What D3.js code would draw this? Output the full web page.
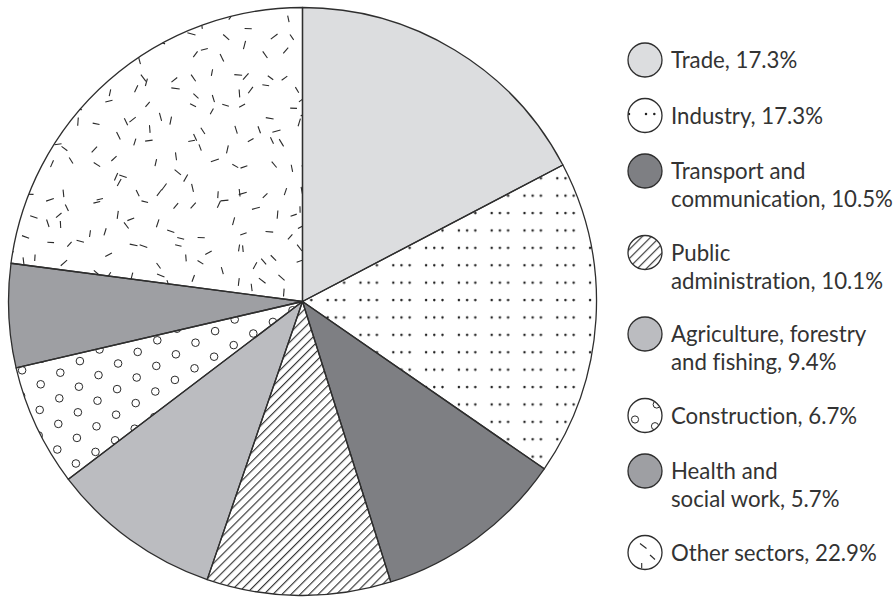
<!DOCTYPE html>
<html><head><meta charset="utf-8">
<script src="https://cdn.jsdelivr.net/npm/d3@7"></script>
<style>body{margin:0;background:#fff} text{font-variant-ligatures:none;font-feature-settings:"liga" 0,"clig" 0;}</style>
</head><body><svg id="c" width="895" height="598"></svg>
<script>
// ---- data ----
const categories = ["Trade","Industry","Transport and communication","Public administration","Agriculture, forestry and fishing","Construction","Health and social work","Other sectors"];
const values = [17.3,17.3,10.5,10.1,9.4,6.7,5.7,22.9];
const legendLabels = [["Trade, 17.3%"],["Industry, 17.3%"],["Transport and","communication, 10.5%"],["Public","administration, 10.1%"],["Agriculture, forestry","and fishing, 9.4%"],["Construction, 6.7%"],["Health and","social work, 5.7%"],["Other sectors, 22.9%"]];
const fillKinds = ["solid","dots","solid","hatch","solid","circles","solid","dashes"];
const solidColors = ["#dcdddf","#ffffff","#7e7f83","#ffffff","#bbbcc0","#ffffff","#9e9fa3","#ffffff"];

// ---- layout ----
const W = 895, H = 598;
const cx = 302.5, cy = 301.5, R = 294;
const stroke = "#2e2e2e", ink = "#333";
const font = "Lato";
const svg = d3.select("#c");
const defs = svg.append("defs");

// dotted pattern (groups of three)
const pd = defs.append("pattern").attr("id","dots").attr("patternUnits","userSpaceOnUse")
  .attr("x",384).attr("y",259.5).attr("width",32.8).attr("height",17.4);
[2,10.2,18.4].forEach(x=>pd.append("circle").attr("cx",x).attr("cy",0.1).attr("r",1.25).attr("fill","#222"));
[2,10.2,18.4].forEach(x=>pd.append("circle").attr("cx",x).attr("cy",17.5).attr("r",1.25).attr("fill","#222"));
// hatch pattern
const ph = defs.append("pattern").attr("id","hatch").attr("patternUnits","userSpaceOnUse")
  .attr("width",6.4).attr("height",10).attr("patternTransform","rotate(45)");
ph.append("rect").attr("width",6.4).attr("height",10).attr("fill","#fff");
ph.append("line").attr("x1",0.6).attr("x2",0.6).attr("y1",0).attr("y2",10).attr("stroke","#2a2a2a").attr("stroke-width",1.1);

const pie = d3.pie().sort(null).value(d=>d)(values);
const arc = d3.arc().innerRadius(0).outerRadius(R);
const g = svg.append("g").attr("transform",`translate(${cx},${cy})`);

// seeded generator for texture
let seed = 12345;
function rnd(){ seed = (seed*1103515245 + 12345) % 2147483648; return seed/2147483648; }

pie.forEach((p,i)=>{
  const kind = fillKinds[i];
  const fill = kind==="dots" ? "url(#dots)" : kind==="hatch" ? "url(#hatch)" : solidColors[i];
  defs.append("clipPath").attr("id","clip"+i).append("path").attr("d",arc(p))
    .attr("transform",`translate(${cx},${cy})`);
  svg.insert("path","g").attr("d",arc(p)).attr("transform",`translate(${cx},${cy})`).attr("fill",fill);
  if(kind==="circles"){
    const cg = svg.insert("g","g:last-of-type").attr("clip-path",`url(#clip${i})`);
    const ox=40.7, oy=384.3, a=[19.6,-11.6], b=[18.6,14];
    for(let m=-30;m<30;m++) for(let n=-30;n<30;n++){
      const x = ox + m*a[0] + n*b[0], y = oy + m*a[1] + n*b[1];
      if(x<0||x>320||y<250||y>520) continue;
      cg.append("circle").attr("cx",x).attr("cy",y).attr("r",3.8).attr("fill","none").attr("stroke","#2a2a2a").attr("stroke-width",1);
    }
  }
  if(kind==="dashes"){
    const dg = svg.insert("g","g:last-of-type").attr("clip-path",`url(#clip${i})`);
    const step = 20;
    for(let y=0;y<320;y+=step) for(let x=0;x<320;x+=step){
      const px = x + rnd()*step, py = y + rnd()*step;
      const ang = rnd()*Math.PI, L = 6.5 + rnd()*2;
      dg.append("line").attr("x1",px-Math.cos(ang)*L/2).attr("y1",py-Math.sin(ang)*L/2)
        .attr("x2",px+Math.cos(ang)*L/2).attr("y2",py+Math.sin(ang)*L/2)
        .attr("stroke","#2a2a2a").attr("stroke-width",1.1);
    }
  }
});
// outlines on top
g.selectAll("path.o").data(pie).join("path").attr("class","o").attr("d",arc)
  .attr("fill","none").attr("stroke",stroke).attr("stroke-width",1.3).attr("stroke-linejoin","round");

// ---- legend ----
const lx = 645, lr = 17, tx = 671;
const lg = svg.append("g");
const probe = lg.append("text").attr("font-family",font).attr("font-size",20).text("communication, 10.5%");
const fs = 20*222/probe.node().getComputedTextLength();
probe.remove();
let y = 60;
legendLabels.forEach((lines,i)=>{
  const kind = fillKinds[i];
  const fill = kind==="hatch" ? "url(#hatch)" : solidColors[i];
  const cid = "lclip"+i;
  defs.append("clipPath").attr("id",cid).append("circle").attr("cx",lx).attr("cy",y).attr("r",lr);
  lg.append("circle").attr("cx",lx).attr("cy",y).attr("r",lr).attr("fill",fill);
  const deco = lg.append("g").attr("clip-path",`url(#${cid})`);
  if(kind==="dots"){
    [-16,1,9.3].forEach(dx=>deco.append("circle").attr("cx",lx+dx).attr("cy",y-1.5).attr("r",1.25).attr("fill","#222"));
  }
  if(kind==="circles"){
    [[-10,4],[11.7,-11],[10,10.7]].forEach(([dx,dy])=>deco.append("circle").attr("cx",lx+dx).attr("cy",y+dy).attr("r",3.6).attr("fill","none").attr("stroke","#2a2a2a").attr("stroke-width",1));
  }
  if(kind==="dashes"){
    [[-5,-9,1.5,-4],[5,2.5,10,7],[-3.3,10.5,-3.3,16]].forEach(([a,b,c,d])=>deco.append("line").attr("x1",lx+a).attr("y1",y+b).attr("x2",lx+c).attr("y2",y+d).attr("stroke","#2a2a2a").attr("stroke-width",1.1));
  }
  lg.append("circle").attr("cx",lx).attr("cy",y).attr("r",lr).attr("fill","none").attr("stroke",stroke).attr("stroke-width",1.3);
  const t = lg.append("text").attr("font-family",font).attr("font-size",fs).attr("fill",ink);
  lines.forEach((s,k)=>t.append("tspan").attr("x",tx).attr("y",y+8+k*28.3).text(s));
  y += 55.5 + 26*(lines.length-1);
});
</script></body></html>
